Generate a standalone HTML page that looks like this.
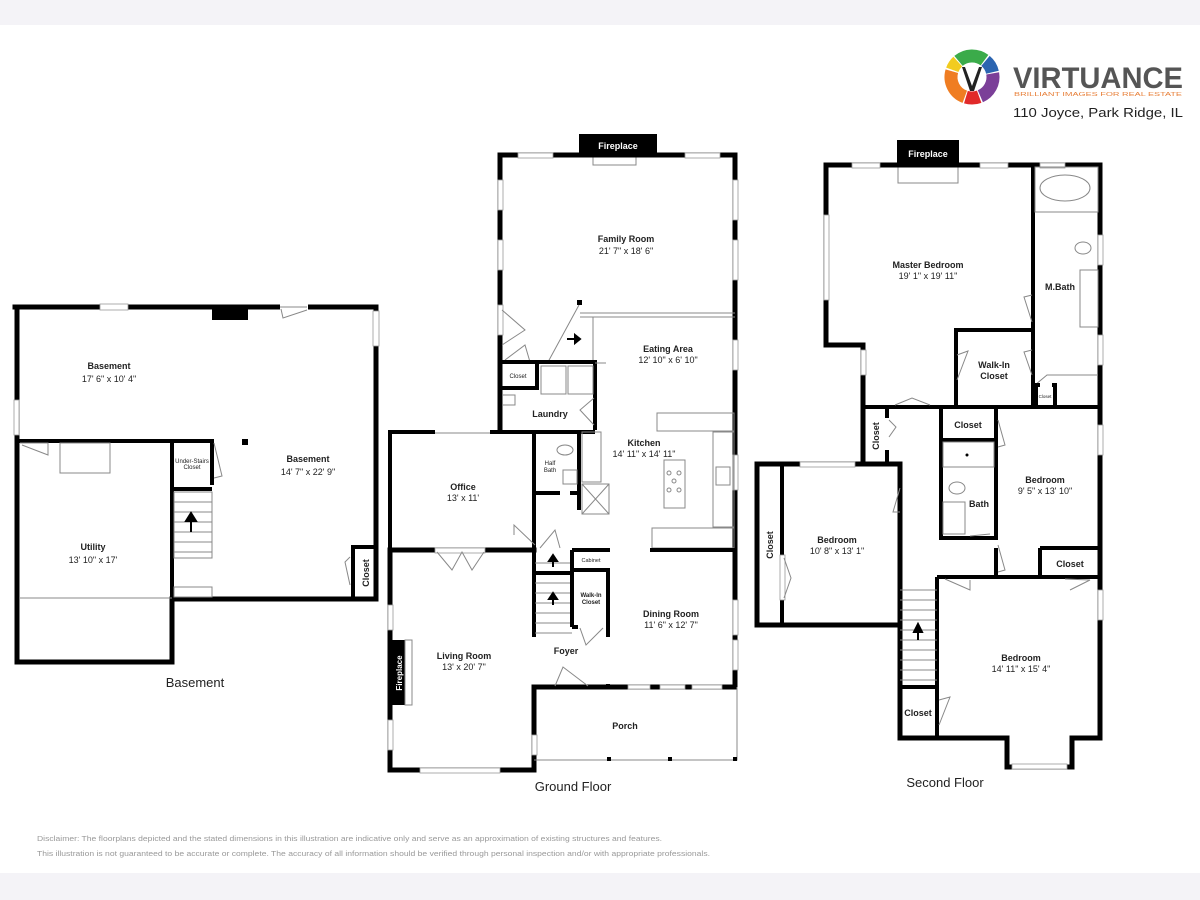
<!DOCTYPE html>
<html><head><meta charset="utf-8"><style>
html,body{margin:0;padding:0;background:#fff}
svg{display:block}
text{font-family:"Liberation Sans",Arial,sans-serif}
.w{fill:none;stroke:#000;stroke-width:5;stroke-linecap:square}
.t{fill:none;stroke:#000;stroke-width:4}
.thin{fill:none;stroke:#888;stroke-width:1}
.win{fill:#fff;stroke:#999;stroke-width:0.8}
.n{font-size:9px;font-weight:bold;fill:#222;text-anchor:middle}
.d{font-size:9px;fill:#222;text-anchor:middle}
.s{font-size:6px;fill:#222;text-anchor:middle}
.c{font-size:9px;font-weight:bold;fill:#222;text-anchor:middle}
</style></head><body>
<svg width="1200" height="900" viewBox="0 0 1200 900" xmlns="http://www.w3.org/2000/svg">
<rect x="0" y="0" width="1200" height="900" fill="#fff"/>
<rect x="0" y="0" width="1200" height="25" fill="#f4f3f7"/>
<rect x="0" y="873" width="1200" height="27" fill="#f4f3f7"/>

<!-- ===== LOGO ===== -->
<g transform="translate(972,77)">
<g fill="none" stroke-width="13">
<circle r="21" stroke="#3bab4a" stroke-dasharray="28 200" transform="rotate(-130)"/>
<circle r="21" stroke="#2b64b0" stroke-dasharray="13.5 200" transform="rotate(-50)"/>
<circle r="21" stroke="#7b3f98" stroke-dasharray="28 200" transform="rotate(-10)"/>
<circle r="21" stroke="#e12a2a" stroke-dasharray="13.5 200" transform="rotate(70)"/>
<circle r="21" stroke="#ef7d22" stroke-dasharray="31.5 200" transform="rotate(110)"/>
<circle r="21" stroke="#f2cc1f" stroke-dasharray="10 200" transform="rotate(200)"/>
</g>
<path d="M-10,-10 L-2,14 L2,14 L10,-10 L7,-10 L0,9 L-7,-10 Z" fill="#222"/>
</g>
<text x="1013" y="88" font-size="30" font-weight="bold" fill="#555" textLength="170" lengthAdjust="spacingAndGlyphs">VIRTUANCE</text>
<text x="1014" y="96" font-size="5" fill="#e8803a" textLength="168" lengthAdjust="spacingAndGlyphs">BRILLIANT IMAGES FOR REAL ESTATE</text>
<text x="1013" y="117" font-size="13" fill="#222" textLength="170" lengthAdjust="spacingAndGlyphs">110 Joyce, Park Ridge, IL</text>

<!-- ===== BASEMENT ===== -->
<g>
<polyline class="w" points="15,307 376,307 376,599 172,599 172,662 17,662 17,307"/>
<polyline class="t" points="17,441 212,441 212,485"/>
<line class="t" x1="172" y1="441" x2="172" y2="599"/>
<line class="t" x1="172" y1="489" x2="212" y2="489"/>
<polyline class="t" points="353,599 353,547 376,547"/>
<rect x="212" y="307" width="36" height="13" fill="#000"/>
<rect x="242" y="439" width="6" height="6" fill="#000"/>
<rect class="win" x="100" y="304" width="28" height="6"/>
<rect class="win" x="14" y="400" width="5" height="35"/>
<rect class="win" x="373" y="311" width="6" height="35"/>
<rect x="280" y="304" width="28" height="6" fill="#fff"/>
<path class="thin" d="M280,307 L307,307 M281,309 L283,318 L307,310"/>
<path class="thin" d="M20,443 L48,443 L48,455 L22,445"/>
<path class="thin" d="M214,443 L222,476 L214,478"/>
<path class="thin" d="M350,557 L345,562 L350,585"/>
<rect class="thin" x="60" y="443" width="50" height="30"/>
<line class="thin" x1="20" y1="598" x2="172" y2="598"/>
<g class="thin"><rect x="174" y="492" width="38" height="66"/>
<line x1="174" y1="502" x2="212" y2="502"/><line x1="174" y1="512" x2="212" y2="512"/><line x1="174" y1="522" x2="212" y2="522"/><line x1="174" y1="532" x2="212" y2="532"/><line x1="174" y1="542" x2="212" y2="542"/><line x1="174" y1="552" x2="212" y2="552"/>
<rect x="174" y="587" width="38" height="10"/></g>
<path d="M191,532 L191,520 M186,521 L191,513 L196,521 Z" stroke="#000" stroke-width="2" fill="#000"/>
<text class="n" x="109" y="369">Basement</text><text class="d" x="109" y="382">17' 6" x 10' 4"</text>
<text class="n" x="308" y="462">Basement</text><text class="d" x="308" y="475">14' 7" x 22' 9"</text>
<text class="n" x="93" y="550">Utility</text><text class="d" x="93" y="563">13' 10" x 17'</text>
<text class="s" x="192" y="463" font-size="4.5">Under-Stairs</text><text class="s" x="192" y="469" font-size="4.5">Closet</text>
<text class="c" transform="translate(369,573) rotate(-90)">Closet</text>
<text x="195" y="687" font-size="13" fill="#222" text-anchor="middle">Basement</text>
</g>

<!-- ===== GROUND FLOOR ===== -->
<g>
<rect x="579" y="134" width="78" height="21" fill="#000"/>
<text x="618" y="149" font-size="9" font-weight="bold" fill="#fff" text-anchor="middle">Fireplace</text>
<rect class="thin" x="593" y="155" width="43" height="10"/>
<polyline class="w" points="500,430 500,155 735,155 735,686"/>
<rect class="win" x="518" y="153" width="35" height="5"/><rect class="win" x="685" y="153" width="35" height="5"/>
<rect class="win" x="498" y="180" width="5" height="30"/><rect class="win" x="498" y="240" width="5" height="30"/><rect class="win" x="498" y="305" width="5" height="30"/>
<rect class="win" x="733" y="180" width="5" height="40"/><rect class="win" x="733" y="240" width="5" height="40"/><rect class="win" x="733" y="340" width="5" height="30"/><rect class="win" x="733" y="455" width="5" height="35"/><rect class="win" x="733" y="600" width="5" height="35"/>
<line class="thin" x1="580" y1="313" x2="735" y2="313" stroke="#666"/>
<line class="thin" x1="580" y1="317" x2="735" y2="317"/>
<line class="thin" x1="593" y1="317" x2="593" y2="362"/>
<rect x="577" y="300" width="5" height="5" fill="#000"/>
<path class="thin" d="M579,305 L548,362 M502,310 L525,330 L502,345 M505,360 L525,345 L530,362"/>
<path d="M567,339 L579,339 M575,335 L580,339 L575,343 Z" stroke="#000" stroke-width="2" fill="#000"/>
<polyline class="t" points="500,362 595,362 595,430"/>
<line class="thin" x1="595" y1="363" x2="606" y2="363"/>
<polyline class="t" points="500,388 537,388 537,362"/>
<rect class="thin" x="541" y="366" width="25" height="28"/><rect class="thin" x="568" y="366" width="25" height="28"/>
<path class="thin" d="M503,395 L515,395 L515,405 L503,405 M594,398 L580,410 L594,425"/>
<polyline class="t" points="390,550 390,432 435,432"/><line class="t" x1="490" y1="432" x2="595" y2="432"/>
<line class="thin" x1="435" y1="433" x2="490" y2="433"/>
<line class="t" x1="534" y1="432" x2="534" y2="550"/>
<line class="t" x1="579" y1="432" x2="579" y2="510"/>
<line class="t" x1="534" y1="493" x2="560" y2="493"/><line class="t" x1="570" y1="493" x2="579" y2="493"/>
<ellipse class="thin" cx="565" cy="450" rx="8" ry="5"/><rect class="thin" x="563" y="470" width="14" height="14"/>
<rect class="thin" x="582" y="432" width="19" height="50"/><rect class="thin" x="582" y="484" width="27" height="30"/>
<path class="thin" d="M582,484 L609,514 M609,484 L582,514"/>
<rect class="thin" x="657" y="413" width="77" height="18"/>
<rect class="thin" x="664" y="460" width="21" height="48"/>
<circle class="thin" cx="669" cy="473" r="2"/><circle class="thin" cx="679" cy="473" r="2"/><circle class="thin" cx="674" cy="481" r="2"/><circle class="thin" cx="669" cy="490" r="2"/><circle class="thin" cx="679" cy="490" r="2"/>
<rect class="thin" x="713" y="432" width="21" height="95"/><rect class="thin" x="716" y="467" width="14" height="18"/>
<rect class="thin" x="652" y="528" width="82" height="20"/>
<line class="t" x1="650" y1="550" x2="735" y2="550"/>
<path class="thin" d="M535,545 L514,525 L514,535 M540,548 L555,530 L560,548"/>
<polyline class="w" points="534,550 390,550 390,770 534,770 534,687 735,687"/>
<line class="t" x1="534" y1="550" x2="534" y2="637"/>
<line class="t" x1="572" y1="550" x2="610" y2="550"/>
<rect class="win" x="435" y="548" width="50" height="5"/>
<path class="thin" d="M437,552 L452,570 L462,552 L472,570 L484,552"/>
<rect class="win" x="388" y="605" width="5" height="25"/><rect class="win" x="388" y="720" width="5" height="30"/><rect class="win" x="420" y="768" width="80" height="5"/><rect class="win" x="532" y="735" width="5" height="20"/>
<rect x="392" y="640" width="13" height="65" fill="#000"/>
<rect class="thin" x="405" y="640" width="7" height="65"/>
<text transform="translate(402,673) rotate(-90)" font-size="8" font-weight="bold" fill="#fff" text-anchor="middle">Fireplace</text>
<g class="thin"><line x1="535" y1="563" x2="572" y2="563"/><line x1="535" y1="572" x2="572" y2="572"/>
<line x1="535" y1="583" x2="572" y2="583"/><line x1="535" y1="593" x2="572" y2="593"/><line x1="535" y1="603" x2="572" y2="603"/><line x1="535" y1="613" x2="572" y2="613"/><line x1="535" y1="623" x2="572" y2="623"/><line x1="535" y1="633" x2="572" y2="633"/></g>
<line class="t" x1="534" y1="573" x2="572" y2="573"/>
<line class="t" x1="572" y1="550" x2="572" y2="627"/>
<polyline class="t" points="572,570 608,570 608,637"/>
<line class="t" x1="572" y1="627" x2="578" y2="627"/>
<text x="591" y="562" font-size="5.5" fill="#222" text-anchor="middle">Cabinet</text>
<text x="591" y="597" font-size="6" font-weight="bold" fill="#222" text-anchor="middle">Walk-In</text><text x="591" y="604" font-size="6" font-weight="bold" fill="#222" text-anchor="middle">Closet</text>
<path class="thin" d="M580,628 L586,645 L603,628"/>
<path d="M553,567 L553,559 M549,561 L553,555 L557,561 Z M553,605 L553,597 M549,599 L553,593 L557,599 Z" stroke="#000" stroke-width="2" fill="#000"/>
<path class="thin" d="M555,686 L563,667 L588,686"/>
<g fill="#000"><rect x="606" y="684" width="4" height="5"/></g>
<rect class="win" x="628" y="685" width="22" height="4"/><rect class="win" x="660" y="685" width="25" height="4"/><rect class="win" x="692" y="685" width="30" height="4"/>
<rect class="win" x="733" y="640" width="5" height="30"/>
<polyline class="thin" points="534,760 737,760 737,687" stroke="#777"/>
<rect x="607" y="757" width="4" height="4" fill="#000"/><rect x="668" y="757" width="4" height="4" fill="#000"/><rect x="733" y="757" width="4" height="4" fill="#000"/>
<text class="n" x="626" y="242">Family Room</text><text class="d" x="626" y="254">21' 7" x 18' 6"</text>
<text class="n" x="668" y="352">Eating Area</text><text class="d" x="668" y="363">12' 10" x 6' 10"</text>
<text x="518" y="378" font-size="6" fill="#222" text-anchor="middle">Closet</text>
<text class="n" x="550" y="417">Laundry</text>
<text class="n" x="644" y="446">Kitchen</text><text class="d" x="644" y="457">14' 11" x 14' 11"</text>
<text x="550" y="465" font-size="6" fill="#222" text-anchor="middle">Half</text><text x="550" y="472" font-size="6" fill="#222" text-anchor="middle">Bath</text>
<text class="n" x="463" y="490">Office</text><text class="d" x="463" y="501">13' x 11'</text>
<text class="n" x="671" y="617">Dining Room</text><text class="d" x="671" y="628">11' 6" x 12' 7"</text>
<text class="n" x="464" y="659">Living Room</text><text class="d" x="464" y="670">13' x 20' 7"</text>
<text class="n" x="566" y="654">Foyer</text>
<text class="n" x="625" y="729">Porch</text>
<text x="573" y="791" font-size="13" fill="#222" text-anchor="middle">Ground Floor</text>
</g>

<!-- ===== SECOND FLOOR ===== -->
<g>
<rect x="897" y="140" width="62" height="25" fill="#000"/>
<text x="928" y="157" font-size="9" font-weight="bold" fill="#fff" text-anchor="middle">Fireplace</text>
<rect class="thin" x="898" y="165" width="60" height="18"/>
<polyline class="w" points="826,165 1100,165 1100,738 1072,738 1072,767 1007,767 1007,738 900,738 900,464 757,464 757,625 900,625"/>
<polyline class="w" points="826,165 826,345 863,345 863,464"/>
<rect class="win" x="852" y="163" width="28" height="5"/><rect class="win" x="980" y="163" width="28" height="5"/><rect class="win" x="1040" y="163" width="25" height="5"/>
<rect class="win" x="824" y="215" width="5" height="85"/><rect class="win" x="861" y="350" width="5" height="25"/>
<rect class="win" x="1098" y="235" width="5" height="30"/><rect class="win" x="1098" y="335" width="5" height="30"/><rect class="win" x="1098" y="425" width="5" height="30"/><rect class="win" x="1098" y="590" width="5" height="30"/>
<rect class="win" x="1012" y="764" width="55" height="5"/>
<rect class="win" x="800" y="462" width="55" height="5"/>
<line class="t" x1="1033" y1="165" x2="1033" y2="407"/>
<line class="t" x1="863" y1="407" x2="1100" y2="407"/>
<polyline class="t" points="956,407 956,330 1033,330"/>
<rect class="thin" x="1035" y="167" width="63" height="45"/><ellipse class="thin" cx="1065" cy="188" rx="25" ry="13"/>
<ellipse class="thin" cx="1083" cy="248" rx="8" ry="6"/><rect class="thin" x="1080" y="270" width="18" height="57"/>
<path class="thin" d="M1035,385 L1047,375 L1098,375"/>
<polyline class="t" points="1036,407 1036,385 1040,385"/><polyline class="t" points="1052,385 1055,385 1055,407"/>
<path class="thin" d="M1032,295 L1024,297 L1032,322 M1032,350 L1024,352 L1032,375 M957,355 L968,351 L957,380 M895,405 L912,398 L930,405"/>
<line class="t" x1="887" y1="407" x2="887" y2="418"/><line class="t" x1="887" y1="450" x2="887" y2="464"/>
<path class="thin" d="M889,420 L896,427 L889,437"/>
<polyline class="t" points="941,407 941,538 996,538 996,407"/>
<line class="t" x1="941" y1="440" x2="996" y2="440"/>
<rect class="thin" x="943" y="442" width="51" height="25"/><circle cx="967" cy="455" r="1.5" fill="#000"/>
<ellipse class="thin" cx="957" cy="488" rx="8" ry="6"/><rect class="thin" x="943" y="502" width="22" height="32"/>
<line class="t" x1="996" y1="548" x2="996" y2="577"/>
<path class="thin" d="M998,420 L1005,445 L998,447 M998,545 L1005,570 L998,572 M970,536 L990,534 M900,488 L893,512 L900,512"/>
<polyline class="t" points="1040,548 1040,577"/><line class="t" x1="1040" y1="548" x2="1100" y2="548"/>
<line class="t" x1="937" y1="577" x2="1100" y2="577"/>
<line class="t" x1="937" y1="577" x2="937" y2="738"/>
<line class="t" x1="782" y1="464" x2="782" y2="625"/>
<rect class="win" x="780" y="555" width="5" height="45"/><path class="thin" d="M784,558 L791,578 L784,598"/>
<g class="thin"><line x1="900" y1="590" x2="937" y2="590"/><line x1="900" y1="600" x2="937" y2="600"/><line x1="900" y1="610" x2="937" y2="610"/><line x1="900" y1="620" x2="937" y2="620"/><line x1="900" y1="630" x2="937" y2="630"/><line x1="900" y1="640" x2="937" y2="640"/><line x1="900" y1="650" x2="937" y2="650"/><line x1="900" y1="660" x2="937" y2="660"/><line x1="900" y1="670" x2="937" y2="670"/><line x1="900" y1="680" x2="937" y2="680"/></g>
<line class="t" x1="900" y1="687" x2="937" y2="687"/>
<path d="M918,640 L918,630 M914,632 L918,624 L922,632 Z" stroke="#000" stroke-width="2" fill="#000"/>
<path class="thin" d="M939,700 L950,697 L939,725 M945,579 L970,590 L970,580 M1065,579 L1090,580 L1070,590"/>
<text class="n" x="928" y="268">Master Bedroom</text><text class="d" x="928" y="279">19' 1" x 19' 11"</text>
<text class="n" x="1060" y="290">M.Bath</text>
<text class="n" x="994" y="368">Walk-In</text><text class="n" x="994" y="379">Closet</text>
<text x="1045" y="398" font-size="4.5" fill="#222" text-anchor="middle">Closet</text>
<text class="c" x="968" y="428">Closet</text>
<text class="c" transform="translate(879,436) rotate(-90)">Closet</text>
<text class="n" x="979" y="507">Bath</text>
<text class="n" x="1045" y="483">Bedroom</text><text class="d" x="1045" y="494">9' 5" x 13' 10"</text>
<text class="c" x="1070" y="567">Closet</text>
<text class="n" x="837" y="543">Bedroom</text><text class="d" x="837" y="554">10' 8" x 13' 1"</text>
<text class="c" transform="translate(773,545) rotate(-90)">Closet</text>
<text class="n" x="1021" y="661">Bedroom</text><text class="d" x="1021" y="672">14' 11" x 15' 4"</text>
<text class="c" x="918" y="716">Closet</text>
<text x="945" y="787" font-size="13" fill="#222" text-anchor="middle">Second Floor</text>
</g>

<text x="37" y="841" font-size="7.5" fill="#999" textLength="625" lengthAdjust="spacingAndGlyphs">Disclaimer: The floorplans depicted and the stated dimensions in this illustration are indicative only and serve as an approximation of existing structures and features.</text>
<text x="37" y="856" font-size="7.5" fill="#999" textLength="673" lengthAdjust="spacingAndGlyphs">This illustration is not guaranteed to be accurate or complete. The accuracy of all information should be verified through personal inspection and/or with appropriate professionals.</text>
</svg>
</body></html>
